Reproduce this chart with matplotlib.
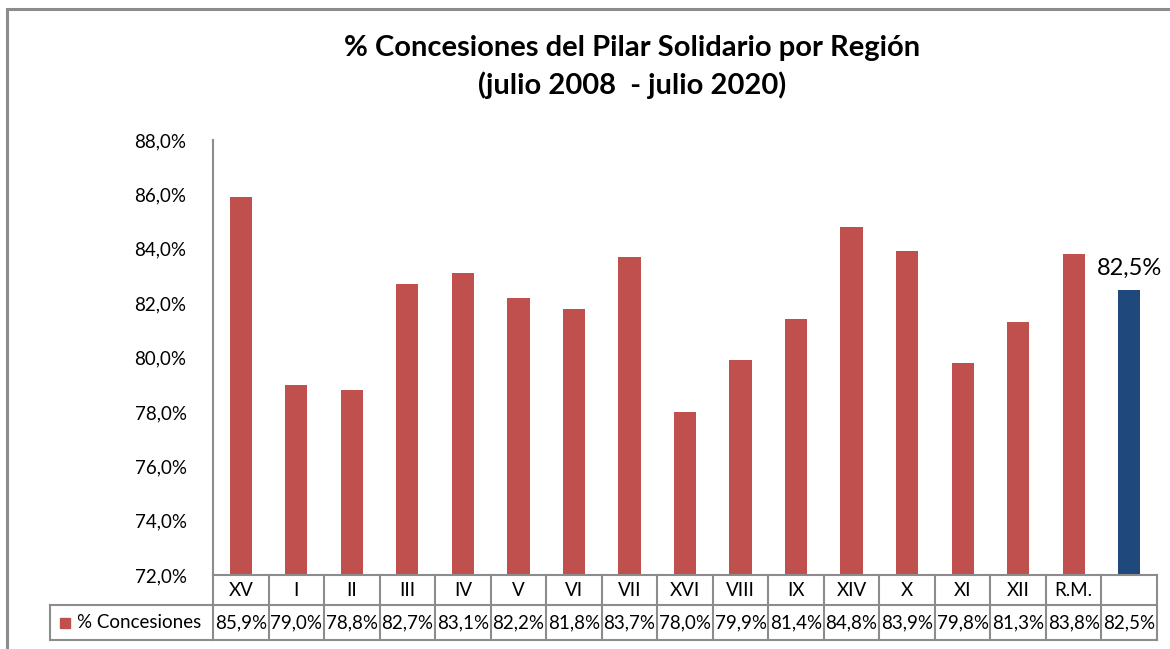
import matplotlib
matplotlib.use("Agg")
import matplotlib.pyplot as plt
from matplotlib.patches import Rectangle
from matplotlib.transforms import blended_transform_factory
from matplotlib.lines import Line2D

plt.rcParams['font.family'] = ['Lato', 'DejaVu Sans']

categories = ["XV", "I", "II", "III", "IV", "V", "VI", "VII", "XVI", "VIII",
              "IX", "XIV", "X", "XI", "XII", "R.M.", ""]
values = [85.9, 79.0, 78.8, 82.7, 83.1, 82.2, 81.8, 83.7, 78.0, 79.9,
          81.4, 84.8, 83.9, 79.8, 81.3, 83.8, 82.5]
series_name = "% Concesiones"
title = "% Concesiones del Pilar Solidario por Región\n(julio 2008  - julio 2020)"
yticks = [72, 74, 76, 78, 80, 82, 84, 86, 88]

RED = "#C0504D"
BLUE = "#1F497D"
GRID = "#8C8C8C"

W, H = 1170, 649
fig = plt.figure(figsize=(W / 100, H / 100), dpi=100)

# outer frame
fig.patches.append(Rectangle((7 / W, -0.1), 1.2, (H - 9) / H + 0.1, transform=fig.transFigure,
                             fill=False, edgecolor=GRID, linewidth=2.2))

left, right, top, bottom = 213, 1157, 140, 575
ax = fig.add_axes([left / W, (H - bottom) / H, (right - left) / W, (bottom - top) / H])

n = len(values)
colors = [RED] * (n - 1) + [BLUE]
x = list(range(n))
ax.bar(x, [v - 72 for v in values], bottom=72, width=0.4, color=colors, zorder=2)
ax.set_xlim(-0.5, n - 0.5)
ax.set_ylim(72, 88)
ax.set_yticks(yticks)
ax.set_yticklabels([f"{t:.1f}%".replace(".", ",") for t in yticks], fontsize=13.5)
ax.tick_params(axis='y', length=0, pad=19)
ax.set_xticks([])
for s in ['top', 'right', 'bottom']:
    ax.spines[s].set_visible(False)
ax.spines['left'].set_color(GRID)
ax.spines['left'].set_linewidth(1.5)

# annotation on last bar
ax.annotate(f"{values[-1]:.1f}%".replace(".", ","), (n - 1, values[-1]),
            xytext=(0, 8), textcoords='offset points', ha='center', va='bottom',
            fontsize=17)

# data table
tr = blended_transform_factory(ax.transData, ax.transAxes)
ah = bottom - top
r0 = 0.0
r1 = -(605 - bottom) / ah
r2 = -(640 - bottom) / ah
lw = 1.5
def hline(x0, x1, y, transform=tr):
    ax.add_line(Line2D([x0, x1], [y, y], transform=transform, color=GRID, lw=lw, clip_on=False))
def vline(xv, y0, y1, transform=tr):
    ax.add_line(Line2D([xv, xv], [y0, y1], transform=transform, color=GRID, lw=lw, clip_on=False))

hline(-0.5, n - 0.5, r0)
hline(-0.5, n - 0.5, r1)
hline(-0.5, n - 0.5, r2)
for i in range(n + 1):
    vline(i - 0.5, r0, r2)
for i, (c, v) in enumerate(zip(categories, values)):
    ax.text(i, (r0 + r1) / 2, c, transform=tr, ha='center', va='center', fontsize=13.5)
    ax.text(i, (r1 + r2) / 2, f"{v:.1f}%".replace(".", ","), transform=tr,
            ha='center', va='center', fontsize=13.5)

# legend cell
lx0 = (50 - left) / (right - left)
ta = ax.transAxes
hline(lx0, 0, r1, ta)
hline(lx0, 0, r2, ta)
vline(lx0, r1, r2, ta)
ax.add_patch(Rectangle((lx0 + 10 / (right - left), (r1 + r2) / 2 - 5 / ah), 10 / (right - left), 10 / ah,
                       transform=ta, color=RED, clip_on=False))
ax.text(lx0 + 27 / (right - left), (r1 + r2) / 2, series_name, transform=ta,
        ha='left', va='center', fontsize=13.5)

fig.text(632 / W, 1 - 67 / H, title, ha='center', va='center', fontsize=21,
         fontweight='bold', linespacing=1.5)

fig.savefig("out.png", dpi=100)
